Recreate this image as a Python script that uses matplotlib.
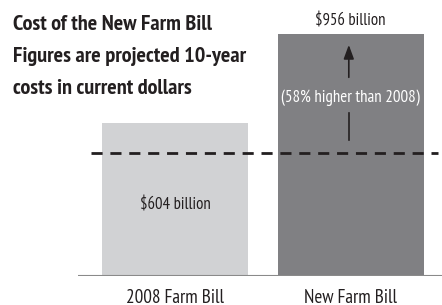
import matplotlib.pyplot as plt

bills = ["2008 Farm Bill", "New Farm Bill"]
costs = [604, 956]
cost_labels = ["$604 billion", "$956 billion"]
reference_level = 487
increase_note = "(58% higher than 2008)"
title_lines = ["Cost of the New Farm Bill",
               "Figures are projected 10-year",
               "costs in current dollars"]

plt.rcParams["font.family"] = ["PT Sans Narrow", "DejaVu Sans"]

fig = plt.figure(figsize=(4.42, 3.05), dpi=100)
ax = fig.add_axes([78 / 442, 29 / 305, 364 / 442, 276 / 305])
ax.set_xlim(-0.553, 1.521)
ax.set_ylim(0, 1089)
ax.axis("off")

x = range(len(bills))
ax.bar(x, costs, width=0.832, color=["#d1d2d4", "#808083"], zorder=1)
ax.axhline(0, color="#8a8a8a", lw=1.5, zorder=2)
ax.axhline(reference_level, xmin=0.036, xmax=0.989, color="#231f20",
           lw=2, ls=(0, (4, 2.8)), zorder=3)

text_c = "#231f20"
ax.text(0, 280, cost_labels[0], ha="center", va="center", fontsize=12, color=text_c)
ax.text(1, costs[1] + 50, cost_labels[1], ha="center", va="center", fontsize=12, color=text_c)
for i, b in enumerate(bills):
    ax.text(i, -85, b, ha="center", va="center", fontsize=13.8, color=text_c)

ax.annotate("", xy=(0.99, 923), xytext=(0.99, 773),
            arrowprops=dict(arrowstyle="-|>,head_length=0.6,head_width=0.22",
                            color="#231f20", lw=1.2, mutation_scale=14))
ax.plot([0.99, 0.99], [536, 643], color="#231f20", lw=1.2)
ax.text(1, 702, increase_note, ha="center", va="center", fontsize=12.2, color="white")

for i, line in enumerate(title_lines):
    fig.text(13 / 442, 1 - (25 + 31.5 * i) / 305, line, ha="left", va="center",
             fontsize=16, fontweight="bold", color=text_c)

fig.savefig("out.png", dpi=100)
